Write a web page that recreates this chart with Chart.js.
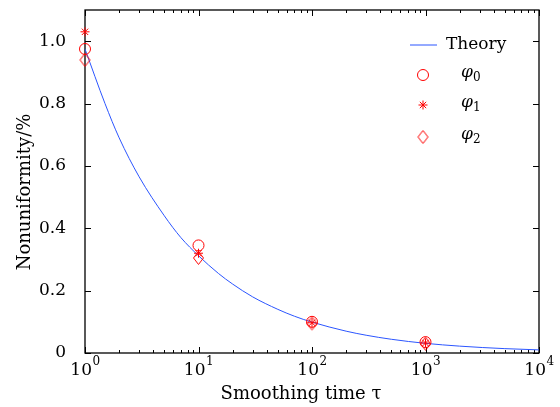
<!DOCTYPE html>
<html>
<head>
<meta charset="utf-8">
<script src="https://cdn.jsdelivr.net/npm/chart.js@4.4.0/dist/chart.umd.min.js"></script>
<style>
  html, body { margin: 0; padding: 0; background: #fff; }
  #wrap { width: 560px; height: 407px; position: relative; }
</style>
</head>
<body>
<div id="wrap"><canvas id="chart"></canvas></div>
<script>
// 数据
const tau = [1, 10, 100, 1000];
const phi0 = [0.975, 0.345, 0.100, 0.035];
const phi1 = [1.03, 0.320, 0.097, 0.032];
const phi2 = [0.940, 0.305, 0.095, 0.030];

// 理论曲线采样点
const theoryX = [1, 1.5, 2, 3, 5, 7, 10, 15, 20, 30, 50, 70, 100, 200, 300, 500, 1000, 2000, 5000, 10000];
const theoryY = [0.975, 0.80, 0.69, 0.565, 0.44, 0.37, 0.312, 0.255, 0.221, 0.180, 0.140, 0.118, 0.099, 0.070, 0.057, 0.044, 0.031, 0.022, 0.014, 0.010];

const yTicks = [0, 0.2, 0.4, 0.6, 0.8, 1.0];
const xDecades = [1, 10, 100, 1000, 10000];
const legendNames = ['Theory', 'φ', 'φ', 'φ'];
const legendSubs = ['', '0', '1', '2'];
const xTitle = 'Smoothing time τ';
const yTitle = 'Nonuniformity/%';

const RED = '#ff0000';
const BLUE = '#2b55ff';
const FONT = '"DejaVu Serif", "Liberation Serif", serif';

const pts = (xs, ys) => xs.map((x, i) => ({ x: x, y: ys[i] }));

// 菱形标记（略高于宽）
function makeDiamond() {
    const c = document.createElement('canvas');
    c.width = 13; c.height = 16;
    const g = c.getContext('2d');
    g.strokeStyle = RED;
    g.lineWidth = 1;
    g.beginPath();
    g.moveTo(6.5, 1.5); g.lineTo(11.5, 8); g.lineTo(6.5, 14.5); g.lineTo(1.5, 8); g.closePath();
    g.stroke();
    return c;
}
const diamond = makeDiamond();

// 边框和内向刻度画在数据之下
const framePlugin = {
    id: 'frame',
    beforeDatasetsDraw(chart) {
        const ctx = chart.ctx;
        const a = chart.chartArea;
        const xs = chart.scales.x, ys = chart.scales.y;
        ctx.save();
        ctx.strokeStyle = '#000';
        ctx.lineWidth = 1.3;
        ctx.strokeRect(a.left, a.top, a.right - a.left, a.bottom - a.top);
        ctx.lineWidth = 1;
        ctx.beginPath();
        xs.ticks.forEach(t => {
            const px = Math.round(xs.getPixelForValue(t.value)) + 0.5;
            const major = Math.abs(Math.log10(t.value) % 1) < 1e-9;
            const len = major ? 6 : 3;
            ctx.moveTo(px, a.bottom); ctx.lineTo(px, a.bottom - len);
            ctx.moveTo(px, a.top); ctx.lineTo(px, a.top + len);
        });
        ys.ticks.forEach(t => {
            const py = Math.round(ys.getPixelForValue(t.value)) + 0.5;
            ctx.moveTo(a.left, py); ctx.lineTo(a.left + 6, py);
            ctx.moveTo(a.right, py); ctx.lineTo(a.right - 6, py);
        });
        ctx.stroke();

        // x 轴刻度标签 10^k
        ctx.fillStyle = '#000';
        ctx.textBaseline = 'alphabetic';
        xDecades.forEach((v, k) => {
            const px = xs.getPixelForValue(v);
            ctx.font = '17px ' + FONT;
            const w1 = ctx.measureText('10').width;
            ctx.font = '12px ' + FONT;
            const w2 = ctx.measureText(String(k)).width;
            const x0 = px - (w1 + w2) / 2;
            ctx.font = '17px ' + FONT;
            ctx.fillText('10', x0, a.bottom + 22);
            ctx.font = '12px ' + FONT;
            ctx.fillText(String(k), x0 + w1 + 0.5, a.bottom + 12);
        });

        // 轴标题
        ctx.font = '18px ' + FONT;
        ctx.textAlign = 'center';
        ctx.fillText(xTitle, 301, 399);
        ctx.save();
        ctx.translate(25, 192);
        ctx.rotate(-Math.PI / 2);
        ctx.textBaseline = 'middle';
        ctx.fillText(yTitle, 0, 0);
        ctx.restore();
        ctx.restore();
    },
    // 图例
    afterDraw(chart) {
        const ctx = chart.ctx;
        ctx.save();
        const lx = 423, rows = [45, 75, 105, 137];
        ctx.textBaseline = 'middle';
        ctx.strokeStyle = BLUE;
        ctx.lineWidth = 1;
        ctx.beginPath();
        ctx.moveTo(410, rows[0]); ctx.lineTo(437, rows[0]);
        ctx.stroke();
        ctx.fillStyle = '#000';
        ctx.font = '17px ' + FONT;
        ctx.fillText(legendNames[0], 446, rows[0]);
        const styles = ['circle', 'star', diamond];
        styles.forEach((s, i) => {
            ctx.strokeStyle = RED;
            ctx.fillStyle = 'rgba(0,0,0,0)';
            ctx.lineWidth = 1;
            Chart.helpers.drawPoint(ctx, { pointStyle: s, radius: s === 'star' ? 4.5 : 5.5, borderWidth: 1 }, lx, rows[i + 1]);
            ctx.fillStyle = '#000';
            ctx.font = 'italic 17px ' + FONT;
            ctx.fillText(legendNames[i + 1], 461, rows[i + 1] - 2);
            const w = ctx.measureText(legendNames[i + 1]).width;
            ctx.font = '12px ' + FONT;
            ctx.fillText(legendSubs[i + 1], 461 + w, rows[i + 1] + 3);
        });
        ctx.restore();
    }
};

const markerSet = (label, ys, style, r) => ({
    type: 'scatter',
    label: label,
    data: pts(tau, ys),
    showLine: false,
    pointStyle: style,
    pointRadius: r,
    pointBorderColor: RED,
    pointBackgroundColor: 'rgba(0,0,0,0)',
    pointBorderWidth: 1,
    clip: false,
    order: 0
});

new Chart(document.getElementById('chart'), {
    type: 'scatter',
    data: {
        datasets: [
            {
                type: 'line',
                label: 'Theory',
                data: pts(theoryX, theoryY),
                borderColor: BLUE,
                borderWidth: 1,
                pointRadius: 0,
                cubicInterpolationMode: 'monotone',
                fill: false,
                order: 5
            },
            markerSet('φ0', phi0, 'circle', 5.5),
            markerSet('φ1', phi1, 'star', 4.5),
            markerSet('φ2', phi2, diamond, 5.5)
        ]
    },
    options: {
        responsive: true,
        maintainAspectRatio: false,
        animation: false,
        layout: { padding: { top: 10, right: 21, left: 0, bottom: 0 } },
        plugins: {
            legend: { display: false },
            tooltip: { enabled: false }
        },
        scales: {
            x: {
                type: 'logarithmic',
                min: 1,
                max: 10000,
                afterBuildTicks(scale) {
                    const t = [];
                    for (let d = 0; d < 4; d++) {
                        for (let m = 1; m < 10; m++) t.push({ value: m * Math.pow(10, d) });
                    }
                    t.push({ value: 10000 });
                    scale.ticks = t;
                },
                afterFit(scale) {
                    scale.height = 54;
                    scale.paddingLeft = 0;
                    scale.paddingRight = 0;
                },
                grid: { display: false },
                border: { display: false },
                ticks: {
                    autoSkip: false,
                    maxRotation: 0,
                    callback() { return ''; }
                }
            },
            y: {
                min: 0,
                max: 1.1,
                afterBuildTicks(scale) {
                    scale.ticks = yTicks.map(v => ({ value: v }));
                },
                afterFit(scale) {
                    scale.width = 85;
                    scale.paddingTop = 0;
                    scale.paddingBottom = 0;
                },
                grid: { display: false },
                border: { display: false },
                ticks: {
                    padding: 11,
                    color: '#000',
                    font: { family: FONT, size: 17 },
                    callback(v) { return v === 0 ? '0' : v.toFixed(1); }
                }
            }
        }
    },
    plugins: [framePlugin]
});
</script>
</body>
</html>
